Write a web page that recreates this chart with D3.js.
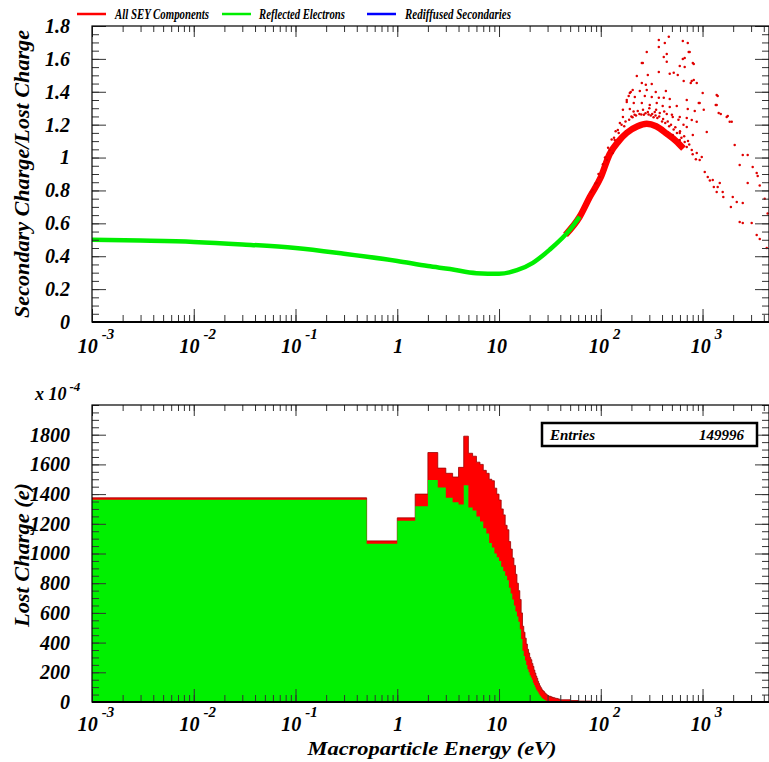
<!DOCTYPE html>
<html>
<head>
<meta charset="utf-8">
<script src="https://cdn.jsdelivr.net/npm/d3@7"></script>
<style>
  body { margin: 0; background: #fff; }
  text { font-family: "Liberation Serif", "DejaVu Serif", serif; font-style: italic; }
</style>
</head>
<body>
<svg id="chart" width="769" height="762"></svg>
<script>
// ---- data ----
const legendLabels = ["All SEY Components", "Reflected Electrons", "Rediffused Secondaries"];
const legendColors = ["#ff0000", "#00ee00", "#0000ff"];

const decadeTicks = [1e-3, 1e-2, 1e-1, 1, 10, 100, 1000];
const seyTicks = [0, 0.2, 0.4, 0.6, 0.8, 1, 1.2, 1.4, 1.6, 1.8];
const chargeTicks = [0, 200, 400, 600, 800, 1000, 1200, 1400, 1600, 1800];

// reflected-electron yield curve (green band)
const reflEnergy = [0.001, 0.003, 0.01, 0.03, 0.1, 0.3, 1, 2, 3.3, 6, 10, 15, 21.5, 31.5, 49.6, 62];
const reflSey    = [0.50, 0.495, 0.487, 0.472, 0.45, 0.415, 0.371, 0.34, 0.322, 0.297, 0.293, 0.315, 0.36, 0.44, 0.56, 0.64];

// total yield band (red)
const totalEnergy = [45, 62, 78, 100, 122, 150, 180, 230, 283, 350, 445, 550, 650];
const totalSey    = [0.53, 0.64, 0.76, 0.88, 1.02, 1.10, 1.15, 1.19, 1.205, 1.19, 1.145, 1.10, 1.055];

// scattered total-yield points [energy eV, yield]
const scatterPoints = [
  [372,1.715],[466,1.734],[426,1.697],[640,1.709],[716,1.697],[372,1.673],[283,1.642],[445,1.630],
  [731,1.642],[416,1.612],[640,1.600],[668,1.606],[253,1.575],[445,1.582],[802,1.575],[597,1.557],
  [668,1.551],[372,1.521],[476,1.509],[521,1.515],[571,1.502],[226,1.496],[290,1.502],[653,1.466],
  [820,1.472],[766,1.454],[877,1.454],[253,1.454],[277,1.442],[317,1.448],[197,1.399],[242,1.405],
  [283,1.411],[347,1.399],[436,1.405],[1004,1.393],[1377,1.381],[188,1.375],[216,1.369],[271,1.375],
  [317,1.369],[372,1.363],[416,1.363],[476,1.356],[700,1.350],[918,1.332],[1377,1.320],[180,1.338],
  [211,1.332],[253,1.332],[303,1.320],[355,1.332],[406,1.314],[476,1.308],[558,1.314],[716,1.296],
  [838,1.283],[1028,1.290],[1442,1.271],[1728,1.247],[1936,1.217],[165,1.290],[193,1.296],[231,1.283],
  [290,1.277],[339,1.277],[380,1.271],[445,1.265],[510,1.247],[597,1.247],[700,1.241],[783,1.229],
  [877,1.217],[1100,1.156],[700,1.186],[597,1.150],[802,1.137],[2070,1.077],[2483,1.016],
  [748,1.642],[259,1.575],[820,1.569],[783,1.466],[1410,1.375],[938,1.332],[1349,1.320],[1510,1.265],
  [1770,1.253],[1850,1.217],[2780,1.016],[2318,0.955],[3111,0.943],[3404,0.906],[3483,0.888],[2780,0.845],
  [1410,0.821],[1578,0.791],[1982,0.760],[2168,0.730],[2483,0.724],[2318,0.608],[2483,0.602],[3040,0.602],
  [3404,0.529],[3648,0.505],[4276,0.450],[1377,0.791],[1290,0.821],[1476,0.845],[982,1.004],[1052,0.912],
  [1125,0.882],[1260,0.864],[877,1.028],[938,0.985],[783,1.046],[700,1.064],[668,1.095],[597,1.107],
  [510,1.137],[122,1.046],[137,1.107],[147,1.168],[154,1.210],[165,1.247],[180,1.350],[193,1.393],
  [206,1.411],[98,0.882],[91,0.845],[83,0.803],[115,0.985],[131,1.028],[3650,0.83],[4083,0.75],[4365,0.66],
  [200,1.25],[215,1.26],[240,1.265],[265,1.26],[310,1.255],[330,1.245],[360,1.24],[400,1.22],[430,1.21],
  [470,1.19],[520,1.17],[560,1.15],[620,1.12],[175,1.22],[160,1.2],[140,1.16],[128,1.11],[110,1.0],
  [190,1.23],[205,1.245],[222,1.255],[250,1.262],[275,1.27],[295,1.262],[320,1.265],[345,1.255],
  [375,1.25],[410,1.235],[455,1.22],[490,1.2],[540,1.185],[600,1.16],[660,1.13],[720,1.10],
  [170,1.19],[150,1.15],[135,1.12],[118,1.06],[105,0.96],[95,0.9],[88,0.84],[80,0.79],
  [210,1.28],[260,1.29],[300,1.3],[350,1.29],[420,1.28],[500,1.26],[580,1.23],[650,1.2],
  [740,1.08],[800,1.02],[860,0.99],[1180,0.86],[1600,0.76],[1900,0.70]
];

// lost-charge histogram, 0.5 eV bins starting at 0 eV
const binWidth = 0.5;
const totalCharge = [
  1375, 1085, 1240, 1400, 1680, 1575, 1540, 1515, 1580, 1790,
  1675, 1655, 1615, 1600, 1560, 1540, 1500, 1490, 1440, 1400,
  1360, 1300, 1260, 1190, 1160, 1080, 1030, 970, 920, 860,
  800, 750, 690, 600, 510, 470, 430, 390, 355, 330,
  300, 285, 260, 240, 215, 195, 175, 160, 140, 125,
  110, 100, 90, 80, 75, 70, 62, 58, 52, 48,
  44, 42, 38, 40, 34, 36, 30, 33, 28, 30,
  26, 27, 24, 25, 22, 24, 20, 21, 19, 18
];
const reflectedCharge = [
  1362, 1065, 1220, 1318, 1495, 1445, 1375, 1345, 1330, 1460,
  1310, 1290, 1250, 1215, 1170, 1135, 1070, 1040, 1000, 975,
  950, 910, 880, 850, 820, 770, 730, 690, 650, 610,
  575, 540, 490, 425, 345, 310, 280, 250, 220, 200,
  180, 165, 150, 130, 115, 100, 85, 75, 65, 55,
  45, 38, 30, 25, 20, 16, 13, 10, 8, 6,
  5, 4, 4, 3, 3, 2, 2, 2, 1, 1,
  1, 1, 0, 0, 0, 0, 0, 0, 0, 0
];
// sparse tail above 40 eV
const tailEdges = [40, 50, 60, 80, 100, 200, 500];
const tailCharge = [15, 10, 6, 4, 2, 1];
const entries = 149996;

// ---- layout ----
const svg = d3.select("#chart");
const L = 92, R = 769;
const x = d3.scaleLog().domain([1e-3, 4500]).range([L, R]);
const yT = d3.scaleLinear().domain([0, 1.8]).range([322, 26]);
const yB = d3.scaleLinear().domain([0, 2000]).range([702, 405]);
const xe = e => x(Math.max(e, 1e-3));

// legend
const legX = [77, 222, 367];
const legTextX = [115, 259, 405];
const legTextW = [94, 86, 106];
const leg = svg.append("g");
legendLabels.forEach((lab, i) => {
  leg.append("line").attr("x1", legX[i]).attr("x2", legX[i] + 29).attr("y1", 14).attr("y2", 14)
    .attr("stroke", legendColors[i]).attr("stroke-width", 2.5);
  leg.append("text").attr("x", legTextX[i]).attr("y", 19).attr("font-size", 14)
    .attr("font-weight", "bold").attr("textLength", legTextW[i]).attr("lengthAdjust", "spacingAndGlyphs")
    .text(lab);
});

// ---- top panel: yield ----
const seyPanel = svg.append("g");
seyPanel.append("path")
  .datum(totalEnergy.map((e, i) => [e, totalSey[i]]))
  .attr("fill", "none").attr("stroke", "#ff0000").attr("stroke-width", 6.5)
  .attr("d", d3.line().x(d => x(d[0])).y(d => yT(d[1])).curve(d3.curveMonotoneX));

seyPanel.selectAll("circle.pt").data(scatterPoints).join("circle")
  .attr("class", "pt")
  .attr("cx", d => x(d[0])).attr("cy", d => yT(d[1])).attr("r", 1.25)
  .attr("fill", "#e00000");

seyPanel.append("path")
  .datum(reflEnergy.map((e, i) => [e, reflSey[i]]))
  .attr("fill", "none").attr("stroke", "#00ee00").attr("stroke-width", 4.5)
  .attr("d", d3.line().x(d => x(d[0])).y(d => yT(d[1])).curve(d3.curveMonotoneX));

// ---- bottom panel: histogram ----
const bins = totalCharge.map((t, i) => ({lo: i * binWidth, hi: (i + 1) * binWidth, total: t, refl: reflectedCharge[i]}))
  .concat(tailCharge.map((t, i) => ({lo: tailEdges[i], hi: tailEdges[i + 1], total: t, refl: 0})));

function stepPoints(key) {
  const pts = bins.map(b => [b.lo, b[key]]);
  pts.push([bins[bins.length - 1].hi, bins[bins.length - 1][key]]);
  return pts;
}
const area = d3.area().x(d => xe(d[0])).y0(yB(0)).y1(d => yB(d[1])).curve(d3.curveStepAfter);
const stepLine = d3.line().x(d => xe(d[0])).y(d => yB(d[1])).curve(d3.curveStepAfter);

const histPanel = svg.append("g");
histPanel.append("path").datum(stepPoints("total")).attr("fill", "#ff0000").attr("d", area);
histPanel.append("path").datum(stepPoints("total")).attr("fill", "none")
  .attr("stroke", "#9a0000").attr("stroke-width", 0.8).attr("d", stepLine);
histPanel.append("path").datum(stepPoints("refl")).attr("fill", "#00f000").attr("d", area);

// ---- axes / frames ----
function panelAxes(y, yBottom, yTop, majors, minors, fmt, labelY) {
  const g = svg.append("g");
  const allX = x.ticks().filter(v => v >= 1e-3 && v <= 4500);
  const clean = s => s.call(a => a.select(".domain").remove()).attr("font-family", null).attr("font-size", null);

  g.append("g").attr("transform", `translate(0,${yBottom})`)
    .call(d3.axisBottom(x).tickValues(allX).tickSize(-7).tickFormat("")).call(clean);
  g.append("g").attr("transform", `translate(0,${yBottom})`)
    .call(d3.axisBottom(x).tickValues(decadeTicks).tickSize(-13).tickFormat("")).call(clean);
  g.append("g").attr("transform", `translate(0,${yTop})`)
    .call(d3.axisTop(x).tickValues(allX).tickSize(-6).tickFormat("")).call(clean);
  g.append("g").attr("transform", `translate(0,${yTop})`)
    .call(d3.axisTop(x).tickValues(decadeTicks).tickSize(-11).tickFormat("")).call(clean);

  g.append("g").attr("transform", `translate(${L},0)`)
    .call(d3.axisLeft(y).tickValues(minors).tickSize(-7).tickFormat("")).call(clean);
  const yl = g.append("g").attr("transform", `translate(${L},0)`)
    .call(d3.axisLeft(y).tickValues(majors).tickSize(-14).tickPadding(22).tickFormat(fmt)).call(clean);
  yl.selectAll("text").attr("font-size", 20).attr("font-weight", "bold").attr("fill", "#000");
  g.append("g").attr("transform", `translate(${R},0)`)
    .call(d3.axisRight(y).tickValues(minors).tickSize(-7).tickFormat("")).call(clean);
  g.append("g").attr("transform", `translate(${R},0)`)
    .call(d3.axisRight(y).tickValues(majors).tickSize(-14).tickFormat("")).call(clean);
  g.selectAll(".tick line").attr("stroke", "#333");

  g.append("rect").attr("x", L).attr("y", yTop).attr("width", R - L).attr("height", yBottom - yTop)
    .attr("fill", "none").attr("stroke", "#000").attr("stroke-width", 1.2);
  g.append("line").attr("x1", L).attr("x2", R).attr("y1", yBottom).attr("y2", yBottom)
    .attr("stroke", "#000").attr("stroke-width", 2);

  // decade labels with superscripts
  g.append("g").selectAll("text").data(decadeTicks).join("text")
    .attr("x", d => { const e = Math.round(Math.log10(d)); return x(d) + (e === 0 ? 1 : e === 1 ? -2 : 4); })
    .attr("y", labelY).attr("text-anchor", "middle").attr("font-size", 20).attr("font-weight", "bold")
    .each(function(d) {
      const e = Math.round(Math.log10(d));
      const t = d3.select(this);
      if (e === 0) t.text("1");
      else if (e === 1) t.text("10");
      else {
        t.append("tspan").text("10");
        t.append("tspan").attr("dx", 4).attr("dy", -14).attr("font-size", 15).text(e < 0 ? "-" + (-e) : e);
      }
    });
}

panelAxes(yT, 322, 26, seyTicks, d3.range(0, 1.8001, 0.05), d3.format("~g"), 353);
panelAxes(yB, 702, 405, chargeTicks, d3.range(0, 2000.1, 50), d3.format("d"), 731);

// multiplier label
const mult = svg.append("text").attr("x", 35).attr("y", 400).attr("font-size", 18).attr("font-weight", "bold");
mult.append("tspan").text("x 10");
mult.append("tspan").attr("dx", 3).attr("dy", -9).attr("font-size", 13).text("-4");

// axis titles
svg.append("text").attr("transform", "translate(29,174) rotate(-90)").attr("text-anchor", "middle")
  .attr("font-size", 21).attr("font-weight", "bold")
  .attr("textLength", 288).attr("lengthAdjust", "spacingAndGlyphs")
  .text("Secondary Charge/Lost Charge");
svg.append("text").attr("transform", "translate(29,555) rotate(-90)").attr("text-anchor", "middle")
  .attr("font-size", 21).attr("font-weight", "bold")
  .attr("textLength", 144).attr("lengthAdjust", "spacingAndGlyphs")
  .text("Lost Charge (e)");
svg.append("text").attr("x", 432).attr("y", 755).attr("text-anchor", "middle")
  .attr("font-size", 19).attr("font-weight", "bold")
  .attr("textLength", 249).attr("lengthAdjust", "spacingAndGlyphs")
  .text("Macroparticle Energy (eV)");

// entries box
const box = svg.append("g");
box.append("rect").attr("x", 542).attr("y", 423).attr("width", 215).attr("height", 23)
  .attr("fill", "#fff").attr("stroke", "#000").attr("stroke-width", 2.5);
box.append("text").attr("x", 550).attr("y", 440).attr("font-size", 15).attr("font-weight", "bold").text("Entries");
box.append("text").attr("x", 744).attr("y", 440).attr("text-anchor", "end").attr("font-size", 15)
  .attr("font-weight", "bold").text(entries);
</script>
</body>
</html>
